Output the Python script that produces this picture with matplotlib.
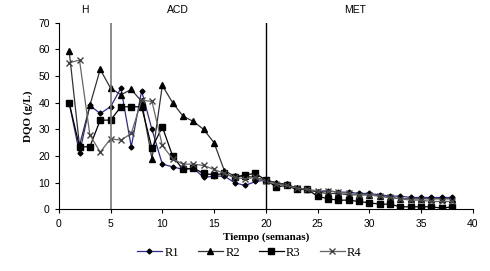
import matplotlib
matplotlib.use("Agg")
import matplotlib.pyplot as plt

# weeks and DQO values (g/L) per reactor
semanas = list(range(1, 39))
r1 = [40, 21, 39, 36, 38.5, 45.5, 23.5, 44.5, 30, 17, 16, 15, 15.5, 12, 12.5, 12.5, 10, 9,
      10.5, 11, 10, 9, 8, 7.5, 6.5, 7, 6.5, 6.5, 6, 6, 5.5, 5, 5, 4.5, 4.5, 4.5, 4.5, 4.5]
r2 = [59.5, 24, 39, 52.5, 45.5, 43, 45, 40.5, 19, 46.5, 40, 35, 33, 30, 25, 14.5, 12.5, 12.5,
      12, 11, 10, 9.5, 8, 7.5, 6.5, 6, 6, 5.5, 5.5, 5.5, 5, 4.5, 4, 4, 4, 4, 4, 4]
r3 = [40, 23.5, 23.5, 33.5, 33.5, 38.5, 38.5, 38.5, 23, 31, 20, 15, 15.5, 13.5, 13, 13.5, 12, 13,
      13.5, 11, 8.5, 9, 7.5, 7.5, 5, 4, 3.5, 3.5, 3, 2.5, 2, 2, 1, 1, 1, 1, 0.5, 1]
r4 = [55, 56, 28, 21.5, 26.5, 26, 28.5, 41, 40.5, 24, 19, 17, 17, 16.5, 15, 13.5, 12, 11.5,
      12, 10.5, 9.5, 9, 8, 7.5, 7, 7, 6.5, 6, 5.5, 5.5, 5, 4.5, 4, 3.5, 3.5, 3, 3, 3]

fases = ["H", "ACD", "MET"]
fase_x = [2.5, 11.5, 28.6]
limites = [5, 20]

fig = plt.figure(figsize=(4.9, 2.71), dpi=100)
ax = fig.add_axes([0.12, 0.227, 0.845, 0.689])

ax.plot(semanas, r1, color="#2b2b9a", lw=0.9, marker="D", ms=2.5,
        mfc="black", mec="black", label="R1")
ax.plot(semanas, r2, color="#333333", lw=0.9, marker="^", ms=4,
        mfc="black", mec="black", label="R2")
ax.plot(semanas, r3, color="black", lw=0.9, marker="s", ms=4.5,
        mfc="black", mec="black", label="R3")
ax.plot(semanas, r4, color="#666666", lw=0.9, marker="x", ms=4,
        mfc="#444444", mec="#444444", label="R4")

# phase boundaries
ax.plot([limites[0], limites[0]], [0, 70], color="#777777", lw=1.2)
ax.plot([limites[1], limites[1]], [0, 70], color="black", lw=1.0)

for txt, xx in zip(fases, fase_x):
    ax.text(xx, 73, txt, ha="center", va="bottom", fontsize=7.5,
            family="Liberation Sans")

ax.set_xlim(0, 40)
ax.set_ylim(0, 70)
ax.set_xticks(range(0, 41, 5))
ax.set_yticks(range(0, 71, 10))
ax.spines["top"].set_visible(False)
ax.spines["right"].set_visible(False)
ax.tick_params(labelsize=7.5, length=3, width=0.8)
for lab in ax.get_xticklabels() + ax.get_yticklabels():
    lab.set_family("Liberation Sans")

ax.set_xlabel("Tiempo (semanas)", fontsize=8, fontweight="bold",
              family="Liberation Serif", labelpad=3)
ax.set_ylabel("DQO (g/L)", fontsize=8, fontweight="bold",
              family="Liberation Serif", labelpad=4)

ax.legend(loc="upper center", bbox_to_anchor=(0.46, -0.14), ncol=4,
          frameon=False, prop={"family": "Liberation Serif", "size": 9},
          handlelength=2.0, columnspacing=1.5, handletextpad=0.2)

fig.savefig("out.png", dpi=100)
